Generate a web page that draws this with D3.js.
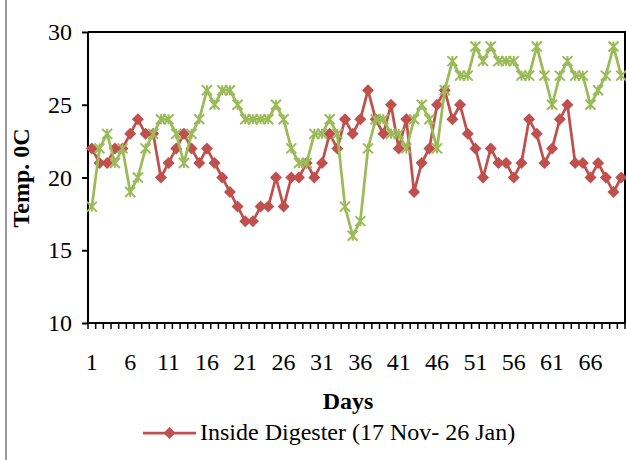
<!DOCTYPE html>
<html>
<head>
<meta charset="utf-8">
<script src="https://cdn.jsdelivr.net/npm/d3@7"></script>
<style>
  html, body { margin: 0; padding: 0; background: #fff; }
  svg { display: block; }
  text { font-family: "Liberation Serif", "Times New Roman", serif; fill: #000; }
</style>
</head>
<body>
<svg id="chart" width="626" height="460"></svg>
<script>
// Daily temperatures, day 1 = 17 Nov
const days = d3.range(1, 71);
const insideDigester = [
  22, 21, 21, 22, 22, 23, 24, 23, 23, 20,
  21, 22, 23, 22, 21, 22, 21, 20, 19, 18,
  17, 17, 18, 18, 20, 18, 20, 20, 21, 20,
  21, 23, 22, 24, 23, 24, 26, 24, 23, 25,
  22, 24, 19, 21, 22, 25, 26, 24, 25, 23,
  22, 20, 22, 21, 21, 20, 21, 24, 23, 21,
  22, 24, 25, 21, 21, 20, 21, 20, 19, 20
];
const ambient = [
  18, 22, 23, 21, 22, 19, 20, 22, 23, 24,
  24, 23, 21, 23, 24, 26, 25, 26, 26, 25,
  24, 24, 24, 24, 25, 24, 22, 21, 21, 23,
  23, 24, 23, 18, 16, 17, 22, 24, 24, 23,
  23, 22, 24, 25, 24, 22, 26, 28, 27, 27,
  29, 28, 29, 28, 28, 28, 27, 27, 29, 27,
  25, 27, 28, 27, 27, 25, 26, 27, 29, 27
];
const yTicks = [10, 15, 20, 25, 30];
const xLabelDays = [1, 6, 11, 16, 21, 26, 31, 36, 41, 46, 51, 56, 61, 66];
const legendLabel = "Inside Digester (17 Nov- 26 Jan)";

const RED = "#C0504D", GREEN = "#9BBB59";
const svg = d3.select("#chart");
const plot = { left: 88, right: 625, top: 32, bottom: 323 };

const x = d3.scaleBand().domain(days).range([plot.left, plot.right]).padding(0);
const y = d3.scaleLinear().domain([10, 30]).range([plot.bottom, plot.top]);
const cx = d => x(d) + x.bandwidth() / 2;

// chart-area edge
svg.append("line").attr("x1", 6).attr("x2", 6).attr("y1", 0).attr("y2", 460)
  .attr("stroke", "#9a9a9a").attr("stroke-width", 2);

// plot-area frame (top and right)
svg.append("path")
  .attr("d", `M${plot.left},${plot.top}H${plot.right}V${plot.bottom}`)
  .attr("fill", "none").attr("stroke", "#000").attr("stroke-width", 2);

// y axis (line and ticks from d3.axisLeft, labels as plain serif text)
const yAxis = svg.append("g").attr("transform", `translate(${plot.left},0)`)
  .call(d3.axisLeft(y).tickValues(yTicks).tickSize(6).tickFormat(""));
yAxis.select(".domain").attr("stroke", "#000").attr("stroke-width", 2)
  .attr("d", `M0,${plot.top}V${plot.bottom}`);
yAxis.selectAll(".tick line").attr("stroke", "#000").attr("stroke-width", 2);
yAxis.selectAll(".tick text").remove();
svg.append("g").selectAll("text").data(yTicks).join("text")
  .attr("x", plot.left - 16).attr("y", d => y(d)).attr("dy", "0.34em")
  .attr("text-anchor", "end").style("font-size", "24px").text(d => d);

// x axis: ticks between categories
const xAxis = svg.append("g").attr("transform", `translate(0,${plot.bottom})`);
xAxis.append("line").attr("x1", plot.left).attr("x2", plot.right)
  .attr("stroke", "#000").attr("stroke-width", 2);
xAxis.selectAll("line.tk").data(days.concat([71])).join("line").attr("class", "tk")
  .attr("x1", d => d <= 70 ? x(d) : plot.right)
  .attr("x2", d => d <= 70 ? x(d) : plot.right)
  .attr("y1", 0).attr("y2", 6).attr("stroke", "#000").attr("stroke-width", 1.5);
xAxis.selectAll("text").data(xLabelDays).join("text")
  .attr("x", d => cx(d)).attr("y", 47).attr("text-anchor", "middle")
  .style("font-size", "24px").text(d => d);

// axis titles
svg.append("text").attr("x", 348).attr("y", 409).attr("text-anchor", "middle")
  .style("font-size", "24px").style("font-weight", "bold").text("Days");
svg.append("text").attr("transform", `translate(29,178) rotate(-90)`)
  .attr("text-anchor", "middle")
  .style("font-size", "24px").style("font-weight", "bold").text("Temp. 0C");

// series
const line = d3.line().x((v, i) => cx(days[i])).y(v => y(v));
const diamond = s => `M0,${-s}L${s},0L0,${s}L${-s},0Z`;
const star = s => `M${-s},${-s}L${s},${s}M${-s},${s}L${s},${-s}M0,${-s}V${s}`;

// inside digester: line + diamonds
svg.append("path").datum(insideDigester).attr("d", line)
  .attr("fill", "none").attr("stroke", RED).attr("stroke-width", 2.75)
  .attr("stroke-linejoin", "round");
svg.append("g").selectAll("path").data(insideDigester).join("path")
  .attr("transform", (v, i) => `translate(${cx(days[i])},${y(v)})`)
  .attr("d", diamond(6)).attr("fill", RED);

// ambient: line + star markers
svg.append("path").datum(ambient).attr("d", line)
  .attr("fill", "none").attr("stroke", GREEN).attr("stroke-width", 2.75)
  .attr("stroke-linejoin", "round");
svg.append("g").selectAll("path").data(ambient).join("path")
  .attr("transform", (v, i) => `translate(${cx(days[i])},${y(v)})`)
  .attr("d", star(5)).attr("fill", "none")
  .attr("stroke", GREEN).attr("stroke-width", 2);

// legend
const lg = svg.append("g").attr("transform", "translate(0,433)");
lg.append("line").attr("x1", 143).attr("x2", 196).attr("stroke", RED).attr("stroke-width", 2.75);
lg.append("path").attr("transform", "translate(169.5,0)").attr("d", diamond(6)).attr("fill", RED);
lg.append("text").attr("x", 200).attr("y", 7).style("font-size", "24px").text(legendLabel);
</script>
</body>
</html>
